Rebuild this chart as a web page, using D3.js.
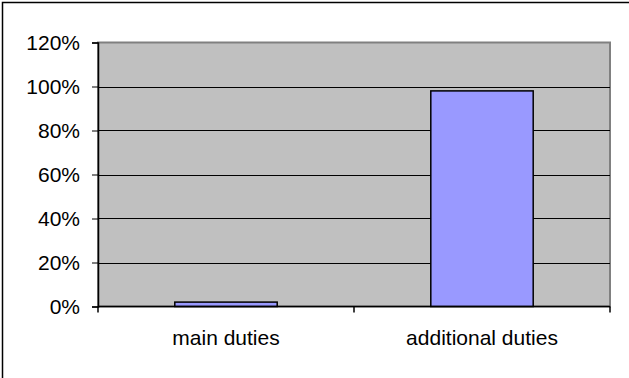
<!DOCTYPE html>
<html lang="en">
  <head>
    <meta charset="UTF-8" />
    <script src="https://d3js.org/d3.v7.min.js"></script>
    <title>Main vs additional duties</title>
    <style type="text/css">
      body { margin: 0; background: #fff; overflow: hidden; }
      svg { display: block; }
    </style>
  </head>
  <body>
    <svg width="629" height="378"></svg>
  </body>
  <script type="text/javascript">
    // data
    const categories = ['main duties', 'additional duties'];
    const shares = [0.02, 0.98];
    const yTicks = [0, 0.2, 0.4, 0.6, 0.8, 1.0, 1.2];

    const svg = d3.select('svg');
    const font = "'Liberation Sans', Arial, sans-serif";

    // outer chart border (right/bottom run off the picture)
    svg.append('rect')
      .attr('x', 2.5).attr('y', 2.5)
      .attr('width', 640).attr('height', 400)
      .attr('fill', 'none')
      .attr('stroke', '#000')
      .attr('stroke-width', 1.5);

    const plotLeft = 98, plotRight = 610, plotTop = 42.5, plotBottom = 306.5;

    const x = d3.scaleBand()
      .domain(categories)
      .range([plotLeft, plotRight])
      .paddingInner(0.6)
      .paddingOuter(0.3);

    const y = d3.scaleLinear()
      .domain([0, 1.2])
      .range([plotBottom, plotTop]);

    // plot area
    svg.append('rect')
      .attr('x', plotLeft).attr('y', plotTop)
      .attr('width', plotRight - plotLeft).attr('height', plotBottom - plotTop)
      .attr('fill', '#c0c0c0')
      .attr('stroke', '#808080')
      .attr('stroke-width', 2);

    // gridlines
    svg.append('g')
      .selectAll('line')
      .data(yTicks.slice(1, -1))
      .join('line')
      .attr('x1', plotLeft).attr('x2', plotRight)
      .attr('y1', (d) => Math.round(y(d)) + 0.5)
      .attr('y2', (d) => Math.round(y(d)) + 0.5)
      .attr('stroke', '#000')
      .attr('stroke-width', 1);

    // bars
    svg.append('g')
      .selectAll('rect')
      .data(categories)
      .join('rect')
      .attr('x', (d) => x(d))
      .attr('y', (d, i) => y(shares[i]))
      .attr('width', x.bandwidth())
      .attr('height', (d, i) => plotBottom - y(shares[i]))
      .attr('fill', '#9999ff')
      .attr('stroke', '#000')
      .attr('stroke-width', 1.5);

    // y axis
    const yAxis = svg.append('g')
      .attr('transform', `translate(${plotLeft},0)`)
      .call(d3.axisLeft(y).tickValues(yTicks).tickFormat(d3.format('.0%')).tickSize(6).tickPadding(12));
    yAxis.select('.domain').attr('stroke', '#000').attr('stroke-width', 1.5);
    yAxis.selectAll('text').attr('font-family', font).attr('font-size', 21).attr('fill', '#000');

    // x axis: ticks sit between categories
    const xAxis = svg.append('g')
      .attr('transform', `translate(0,${plotBottom})`);
    xAxis.append('line')
      .attr('x1', plotLeft).attr('x2', plotRight)
      .attr('stroke', '#000').attr('stroke-width', 1.5);
    xAxis.selectAll('.tk')
      .data([plotLeft, (plotLeft + plotRight) / 2, plotRight])
      .join('line')
      .attr('class', 'tk')
      .attr('x1', (d) => d).attr('x2', (d) => d)
      .attr('y1', 0).attr('y2', 6)
      .attr('stroke', '#000').attr('stroke-width', 1.5);
    xAxis.selectAll('text')
      .data(categories)
      .join('text')
      .attr('x', (d) => x(d) + x.bandwidth() / 2)
      .attr('y', 38.5)
      .attr('text-anchor', 'middle')
      .attr('font-family', font)
      .attr('font-size', 21)
      .text((d) => d);
  </script>
</html>
